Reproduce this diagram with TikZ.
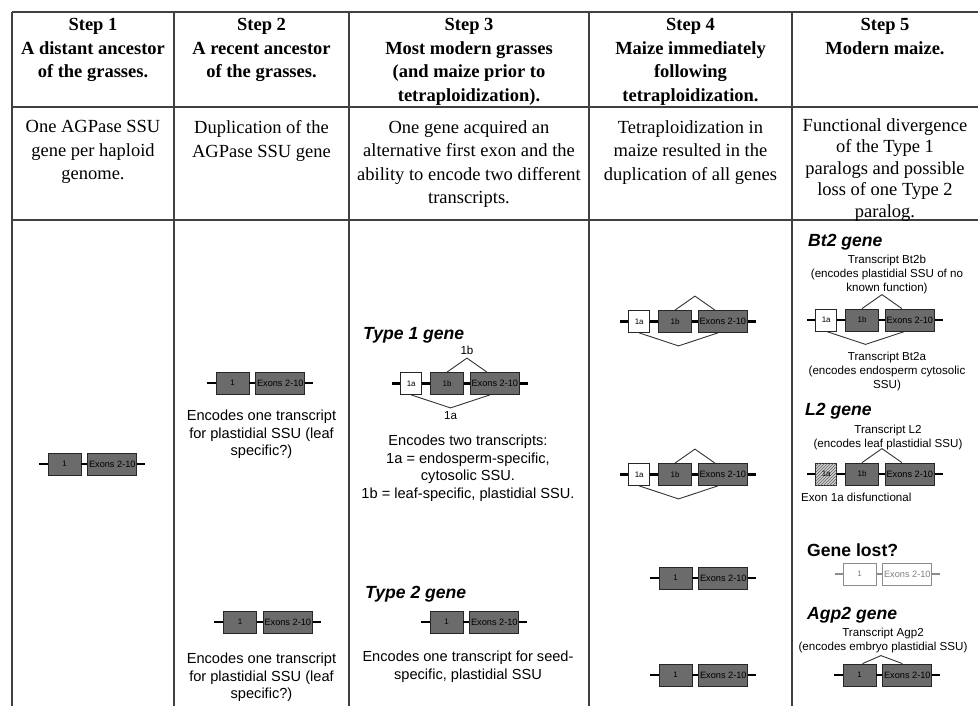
\documentclass[tikz,border=0pt]{standalone}
\usepackage{fontspec}
\setmainfont{Liberation Serif}
\setsansfont{Liberation Sans}
\usepackage{tikz}
\usetikzlibrary{positioning,calc,patterns}
\tikzset{
  rejilla/.style={draw=black!75, line width=1.1pt},
  cabeza/.style={font=\bfseries\fontsize{18.5}{23.5}\selectfont, align=center,
    anchor=north, inner sep=0pt},
  descr/.style={font=\fontsize{18.5}{23.3}\selectfont, align=center,
    anchor=north, inner sep=0pt},
  texto/.style={font=\sffamily\fontsize{14.6}{17.6}\selectfont, align=center,
    anchor=north, inner sep=0pt},
  textop/.style={font=\sffamily\fontsize{11.6}{14}\selectfont, align=center,
    anchor=north, inner sep=0pt},
  etq/.style={font=\sffamily\fontsize{11.6}{14}\selectfont, inner sep=0pt},
  gen/.style={font=\sffamily\bfseries\itshape\fontsize{17.6}{20}\selectfont,
    anchor=base west, inner sep=0pt},
  exon/.style={rectangle, draw=black!85, fill=black!58, line width=0.8pt,
    minimum width=33pt, minimum height=22pt, inner sep=0pt,
    font=\sffamily\fontsize{8}{9}\selectfont},
  exonl/.style={exon, minimum width=49pt, font=\sffamily\fontsize{9.2}{10}\selectfont},
  exona/.style={exon, fill=white, minimum width=21pt},
  exonh/.style={exon, fill=black!20, minimum width=21pt,
    postaction={pattern=north east lines, pattern color=black!60}},
  exonp/.style={exon, draw=black!45, fill=white, text=black!50},
  exonpl/.style={exonp, minimum width=49pt, font=\sffamily\fontsize{9.2}{10}\selectfont},
  intron/.style={line width=2.2pt},
  intronp/.style={line width=1.6pt, draw=black!45},
  empalme/.style={line width=0.9pt, draw=black!80},
}

\begin{document}
\begin{tikzpicture}[x=1pt,y=1pt]
  \useasboundingbox (0,0) rectangle (978,-706);

  % tabla
  \foreach \y in {12,107,220}
    \draw[rejilla] (12,-\y) -- (978,-\y);
  \foreach \x in {12,174,349,589,792}
    \draw[rejilla] (\x,-12) -- (\x,-706);

  % cabeceras
  \node[cabeza] (h1) at (93,-18.5) {Step 1\\A distant ancestor\\of the grasses.};
  \node[cabeza] (h2) at (261.5,-18.5) {Step 2\\A recent ancestor\\of the grasses.};
  \node[cabeza] (h3) at (469,-18.5) {Step 3\\Most modern grasses\\(and maize prior to\\tetraploidization).};
  \node[cabeza] (h4) at (690.5,-18.5) {Step 4\\Maize immediately\\following\\tetraploidization.};
  \node[cabeza] (h5) at (885,-18.5) {Step 5\\Modern maize.};

  % descripciones
  \node[descr] (d1) at (93,-120.5) {One AGPase SSU\\gene per haploid\\genome.};
  \node[descr] (d2) at (261.5,-120.5) {Duplication of the\\AGPase SSU gene};
  \node[descr] (d3) at (469,-120.5) {One gene acquired an\\alternative first exon and the\\ability to encode two different\\transcripts.};
  \node[descr] (d4) at (690.5,-120.5) {Tetraploidization in\\maize resulted in the\\duplication of all genes};
  \node[descr, font=\fontsize{18.5}{21.5}\selectfont] (d5) at (885,-118) {Functional divergence\\of the Type 1\\paralogs and possible\\loss of one Type 2\\paralog.};

  % genes con exon 1
  \foreach \n/\x/\y in {u/64.5/464, da/232.5/383, db/240/622, tb/446.5/622,
      ca/675.5/578, cb/675.5/675, ag/859.5/675}{
    \node[exon] (\n1) at (\x,-\y) {1};
    \node[exonl, right=6pt of \n1] (\n2) {Exons 2-10};
    \draw[intron] ([xshift=-9pt]\n1.west) -- (\n1.west);
    \draw[intron] (\n1.east) -- (\n2.west);
    \draw[intron] (\n2.east) -- ([xshift=8pt]\n2.east);
  }
  \coordinate (ag-pu) at ($(ag1.north)!.5!([xshift=20pt]ag2.north west)+(0,8)$);
  \draw[empalme] ([xshift=3pt]ag1.north) -- (ag-pu) -- ([xshift=20pt]ag2.north west);

  % genes tipo 1 (1a, 1b)
  \foreach \n/\x/\y/\st in {t/447/383.5/exona, ma/675/321.5/exona,
      mb/675/474.5/exona, bt/862/320/exona, lg/862/474/exonh}{
    \node[exon] (\n-b) at (\x,-\y) {1b};
    \node[\st, left=8pt of \n-b] (\n-a) {1a};
    \node[exonl, right=6pt of \n-b] (\n-c) {Exons 2-10};
    \draw[intron] ([xshift=-8pt]\n-a.west) -- (\n-a.west);
    \draw[intron] (\n-a.east) -- (\n-b.west);
    \draw[intron] (\n-b.east) -- (\n-c.west);
    \draw[intron] (\n-c.east) -- ([xshift=8pt]\n-c.east);
    \coordinate (\n-pu) at ($(\n-b.north)!.5!([xshift=17pt]\n-c.north west)+(0,14)$);
    \draw[empalme] (\n-b.north) -- (\n-pu) -- ([xshift=17pt]\n-c.north west);
  }
  \foreach \n in {t,ma,mb,bt}{
    \coordinate (\n-pd) at ($(\n-a.south)!.5!([xshift=20pt]\n-c.south west)+(0,-13)$);
    \draw[empalme] (\n-a.south) -- (\n-pd) -- ([xshift=20pt]\n-c.south west);
  }
  \node[etq, above=3pt of t-pu] (l1b) {1b};
  \node[etq, below=3pt of t-pd] (l1a) {1a};

  % gen perdido
  \node[exonp] (gl1) at (859.5,-574) {1};
  \node[exonpl, right=6pt of gl1] (gl2) {Exons 2-10};
  \draw[intronp] ([xshift=-8pt]gl1.west) -- (gl1.west);
  \draw[intronp] (gl1.east) -- (gl2.west);
  \draw[intronp] (gl2.east) -- ([xshift=8pt]gl2.east);

  % nombres de genes
  \node[gen] (n-t1) at (363,-339.3) {Type 1 gene};
  \node[gen] (n-t2) at (365,-598.3) {Type 2 gene};
  \node[gen] (n-bt) at (808,-246.3) {Bt2 gene};
  \node[gen] (n-l2) at (805,-415.3) {L2 gene};
  \node[gen, font=\sffamily\bfseries\fontsize{17.6}{20}\selectfont] (n-gl) at (807,-556.3) {Gene lost?};
  \node[gen] (n-ag) at (807,-619.3) {Agp2 gene};

  % notas
  \node[texto] (c2a) at (261.5,-409.7) {Encodes one transcript\\for plastidial SSU (leaf\\specific?)};
  \node[texto] (c2b) at (261.5,-652.7) {Encodes one transcript\\for plastidial SSU (leaf\\specific?)};
  \node[texto] (c3a) at (468,-434.7) {Encodes two transcripts:\\1a = endosperm-specific,\\cytosolic SSU.\\1b = leaf-specific, plastidial SSU.};
  \node[texto] (c3b) at (468,-650.7) {Encodes one transcript for seed-\\specific, plastidial SSU};
  \node[textop] (c5a) at (887,-254.7) {Transcript Bt2b\\(encodes plastidial SSU of no\\known function)};
  \node[textop] (c5b) at (887,-351.7) {Transcript Bt2a\\(encodes endosperm cytosolic\\SSU)};
  \node[textop] (c5c) at (888,-424.7) {Transcript L2\\(encodes leaf plastidial SSU)};
  \node[textop, anchor=west] (c5d) at (801,-497) {Exon 1a disfunctional};
  \node[textop] (c5e) at (883,-627.7) {Transcript Agp2\\(encodes embryo plastidial SSU)};
\end{tikzpicture}
\end{document}
